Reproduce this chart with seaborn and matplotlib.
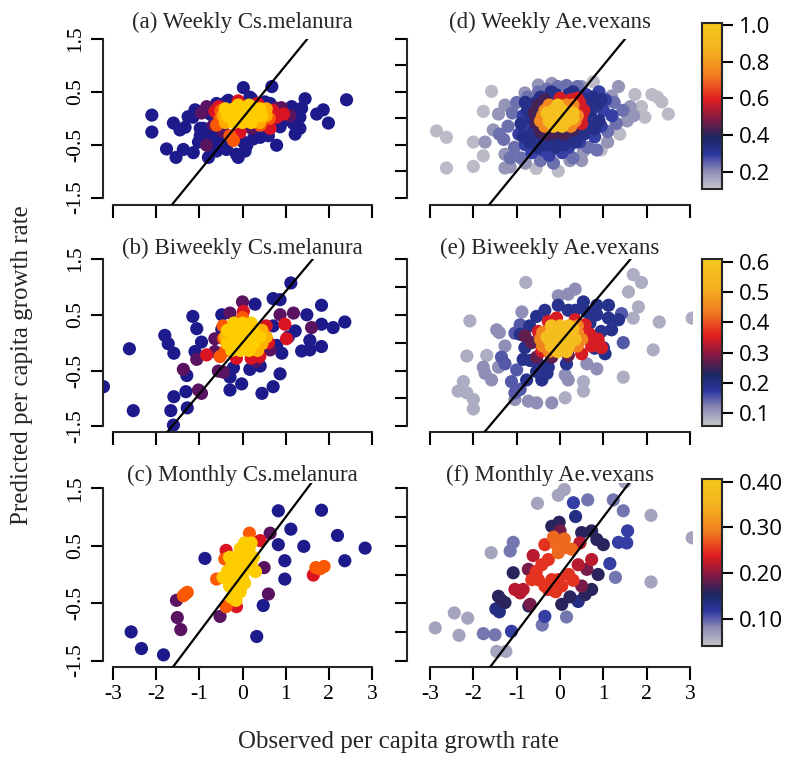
import numpy as np
import pandas as pd
import matplotlib
matplotlib.use("Agg")
import matplotlib.pyplot as plt
import seaborn as sns
from matplotlib.colors import LinearSegmentedColormap, Normalize
from matplotlib.cm import ScalarMappable

# ---------------- data ----------------
titles = ["(a) Weekly Cs.melanura", "(d) Weekly Ae.vexans",
          "(b) Biweekly Cs.melanura", "(e) Biweekly Ae.vexans",
          "(c) Monthly Cs.melanura", "(f) Monthly Ae.vexans"]

a_groups = {
 0.08: [(-2.10,0.06),(-2.10,-0.26),(-1.76,-0.58),(-1.54,-0.74),(-1.60,-0.09),(-1.45,-0.22),(-1.33,-0.17),
        (-1.37,-0.59),(-1.14,-0.65),(-0.79,-0.74),(-1.15,0.02),(-1.10,0.16),(-0.98,-0.19),(-0.98,-0.33),
        (-1.02,-0.45),(-0.83,-0.42),(-0.75,-0.30),(-0.64,-0.51),(-0.60,-0.62),(-0.37,-0.59),(-0.14,-0.68),
        (-0.10,-0.74),(0.06,-0.62),(0.02,-0.45),(0.02,0.58),(0.68,0.60),(0.17,0.40),(-0.33,0.34),(-0.60,0.28),
        (0.41,-0.36),(0.79,-0.51),(1.22,-0.30),(1.33,-0.19),(1.45,0.37),(1.14,0.22),(1.37,0.19),(1.72,0.08),
        (1.87,0.16),(1.99,-0.09),(2.41,0.35),(1.06,-0.01),(0.91,-0.07),(1.26,0.08),(0.64,0.28),(0.49,0.22),
        (-1.26,0.03),(-1.06,0.13),(-0.75,0.08),(-0.37,0.31),(0.21,0.37),(0.52,0.31),(1.02,0.16),(1.33,0.02),
        (1.18,-0.10),(0.87,-0.16),(0.60,-0.33),(0.25,-0.39),(0.10,-0.51),(-0.41,-0.36),(-0.64,-0.36),(-0.91,-0.19)],
 0.42: [(-0.83,-0.51),(-0.83,0.22),(0.79,0.19),(-0.68,-0.13),(0.21,-0.19),(0.56,-0.16),(1.10,0.05),
        (-0.95,0.10),(0.90,0.20),(-0.45,-0.25)],
 0.60: [(0.95,0.08),(0.79,0.02),(0.64,-0.19),(-0.64,0.13),(-0.06,-0.27),(0.70,0.15),(-0.55,0.22),
        (0.35,0.28),(-0.10,0.33)],
 0.72: [(-0.60,-0.13),(-0.52,-0.01),(0.41,-0.13),(-0.29,-0.33),(-0.21,-0.42),(0.62,0.00),(-0.50,0.15)],
 0.85: [(-0.45,0.05),(0.55,0.05),(-0.40,-0.08),(0.55,0.18),(0.40,-0.08)],
 0.96: [(-0.35,0.05),(-0.25,0.05),(-0.15,0.05),(-0.05,0.05),(0.05,0.05),(0.15,0.05),(0.25,0.05),(0.35,0.05),
        (0.45,0.05),(-0.40,0.18),(-0.20,0.18),(0.00,0.18),(0.20,0.18),(0.40,0.18),(-0.20,-0.08),(0.00,-0.08),
        (0.20,-0.08),(-0.10,0.25),(0.15,0.25)],
}

d_groups = {
 0.125: [(-2.85,-0.24),(-2.62,-0.36),(-2.62,-0.94),(-2.00,-0.91),(-2.00,-0.45),(-1.77,-0.71),(-1.77,0.13),
         (-1.58,0.51),(-0.04,-1.00),(2.50,0.08),(2.35,0.31),(2.12,0.45),(1.73,0.45),(1.96,0.02),(0.77,0.69),
         (-0.55,-0.95),(0.95,-0.60),(1.38,-0.30),(1.88,0.22),(2.25,0.40)],
 0.19: [(-1.73,-0.45),(-1.54,-0.22),(-1.42,0.08),(-1.27,-0.94),(-1.15,-0.92),(-1.27,-0.68),(0.50,-0.80),
        (0.54,-0.62),(0.23,-0.80),(1.35,0.60),(0.50,0.60),(-0.19,0.66),(-0.50,0.63),(-0.81,0.48),(-1.27,0.25),
        (1.19,0.42),(1.62,0.22),(1.55,-0.05),(1.70,0.05),(-0.80,-0.85),(1.10,-0.45)],
 0.235: [(-1.30,-0.40),(-1.20,-0.15),(-1.10,0.10),(-1.05,-0.55),(-1.00,0.30),(-0.90,-0.75),(-0.75,0.40),
         (-0.50,0.50),(-0.45,-0.80),(-0.30,0.55),(-0.15,-0.85),(-0.05,0.60),(0.15,0.62),(0.30,-0.75),(0.40,0.60),
         (0.65,-0.55),(1.10,-0.25),(1.25,0.30),(1.30,-0.10),(1.45,0.15),(0.85,-0.60),(-1.40,-0.30),(-1.15,-0.75)],
 0.29: [(-0.95,-0.30),(-0.85,0.05),(-0.80,-0.50),(-0.70,-0.20),(-0.65,-0.65),(-0.60,0.20),(-0.55,-0.40),
        (-0.40,-0.60),(-0.25,-0.70),(0.05,-0.65),(0.20,-0.55),(0.45,-0.45),(0.60,0.45),(0.75,0.30),(0.80,-0.35),
        (0.90,0.50),(0.95,-0.15),(1.00,0.15),(1.05,0.35),(1.20,0.05),(0.70,-0.05)],
 0.33: [(-0.90,-0.10),(-0.85,-0.35),(-0.75,0.15),(-0.70,-0.45),(-0.65,0.00),(-0.60,-0.25),(-0.55,0.30),
        (-0.50,-0.55),(-0.45,0.40),(-0.40,-0.35),(-0.30,-0.50),(-0.20,-0.45),(-0.10,-0.55),(-0.10,0.45),
        (0.00,-0.40),(0.10,-0.50),(0.20,0.45),(0.25,-0.35),(0.35,-0.45),(0.50,0.40),(0.55,-0.30),(0.60,0.25),
        (0.65,-0.15),(0.70,0.10),(0.75,0.40),(0.85,0.25),(0.90,-0.05),(0.95,0.35),(0.40,-0.25),(-0.80,0.30),
        (0.80,-0.20),(-0.20,0.50),(0.30,0.50)],
 0.43: [(-0.60,0.10),(-0.55,-0.10),(-0.50,0.25),(-0.45,-0.25),(-0.35,0.35),(-0.30,-0.30),(-0.15,-0.28),
        (0.10,-0.30),(0.30,-0.22),(-0.55,0.02)],
 0.58: [(0.00,0.38),(0.25,0.35),(0.45,0.30),(0.50,-0.10),(0.55,0.15),(0.50,0.05),(0.40,0.38)],
 0.76: [(-0.35,-0.15),(0.25,-0.15),(-0.45,-0.05),(0.35,-0.05),(-0.40,0.05),(0.40,0.05),(-0.35,0.15),
        (0.25,0.15),(-0.25,0.25),(0.30,0.25),(0.15,0.25)],
 0.96: [(-0.15,-0.15),(0.05,-0.15),(-0.25,-0.05),(-0.05,-0.05),(0.15,-0.05),(-0.20,0.05),(0.00,0.05),
        (0.20,0.05),(-0.15,0.15),(0.05,0.15),(-0.05,0.25),(-0.10,0.00),(0.10,0.00),(0.30,0.00),(-0.30,0.10),
        (0.00,0.10),(0.30,0.10)],
}

b_groups = {
 0.08: [(-2.62,-0.11),(-3.22,-0.79),(-2.53,-1.22),(-1.80,0.13),(-1.72,-0.02),(-1.59,-0.19),(-1.29,-0.59),
        (-1.31,-0.88),(-1.28,-1.17),(-1.59,-0.97),(-1.66,-1.22),(-1.60,-1.48),(-1.15,0.47),(-1.06,0.25),
        (-0.95,0.01),(-1.10,-0.16),(-0.29,-0.62),(-0.29,-0.85),(-0.02,-0.74),(-0.21,-0.45),(0.17,-0.48),
        (0.41,-0.42),(0.45,-0.91),(0.71,-0.79),(0.87,-0.56),(0.91,-0.19),(0.79,-0.05),(1.06,0.10),(1.22,0.21),
        (0.71,0.30),(1.49,0.50),(1.37,-0.15),(1.56,-0.13),(1.83,-0.07),(1.56,0.04),(1.83,0.33),(2.10,0.27),
        (2.37,0.37),(1.83,0.67),(1.12,1.07),(0.71,0.79),(0.87,0.77),(0.29,0.69),(-0.48,0.50),(-0.48,0.24)],
 0.42: [(-1.37,-0.48),(-1.02,-0.85),(-0.95,-0.91),(-1.06,-0.30),(-0.64,-0.16),(-0.56,-0.51),(-0.44,-0.53),
        (0.29,-0.28),(0.87,0.50),(1.18,0.53),(1.60,0.27),(0.00,0.73),(-0.29,0.53),(0.33,-0.33),(-0.64,0.07),
        (0.64,-0.13)],
 0.60: [(-0.83,-0.22),(0.02,0.56),(1.02,0.07),(0.98,0.33),(-0.14,-0.28),(0.55,0.30),(0.60,0.00),(0.40,-0.25),
        (0.20,-0.28)],
 0.72: [(-0.52,-0.25),(-0.44,0.07),(-0.45,0.30),(0.00,0.45),(-0.40,-0.15)],
 0.86: [(-0.40,0.10),(0.55,0.10),(0.45,0.22),(0.45,-0.02),(0.35,-0.14)],
 0.96: [(-0.20,0.35),(0.00,0.35),(0.20,0.35),(-0.35,0.22),(-0.15,0.22),(0.05,0.22),(0.25,0.22),(-0.20,0.10),
        (0.00,0.10),(0.20,0.10),(0.40,0.10),(-0.35,-0.02),(-0.15,-0.02),(0.05,-0.02),(0.25,-0.02),(-0.25,-0.14),
        (-0.05,-0.14),(0.15,-0.14)],
}

e_groups = {
 0.085: [(-0.79,1.08),(-2.08,0.39),(-2.15,-0.24),(-2.23,-0.70),(-2.35,-0.87),(-2.15,-0.90),(-2.00,-1.02),
         (-2.00,-1.19),(1.69,1.22),(1.88,1.08),(1.58,0.91),(1.81,0.64),(1.69,0.44),(2.29,0.37),(2.15,-0.13),
         (1.46,-0.62),(0.54,-0.87),(0.54,-0.70),(0.12,-0.99),(3.05,0.44),(-1.69,-0.23)],
 0.115: [(-1.46,0.23),(-1.40,0.18),(-1.27,-0.06),(-1.77,-0.44),(-1.58,-0.67),(-1.73,-0.55),(-1.42,-0.44),
         (-0.88,0.55),(0.35,0.96),(0.19,0.87),(-0.04,0.84),(-0.19,-1.08),(-0.54,-1.08),(-0.73,-1.05),
         (-1.04,-1.02),(0.85,-0.47),(0.62,-0.38),(0.19,-0.67),(0.12,-0.58)],
 0.15: [(-1.35,-0.26),(-1.27,-0.38),(-1.04,0.17),(-0.92,0.32),(1.42,0.52),(1.46,0.00),(-1.12,-0.70),
        (-1.04,-0.90),(-0.92,-0.84),(-1.00,-0.49)],
 0.19: [(-0.54,0.47),(-0.35,0.58),(-0.04,0.67),(0.19,0.58),(0.54,0.73),(0.85,0.67),(1.12,0.67),(1.35,0.41),
        (1.12,0.44),(1.19,0.23),(1.00,-0.09),(1.04,-0.20),(0.69,0.35),(0.62,0.55),(0.35,0.58),(-0.92,0.15),
        (-0.81,-0.09),(-0.69,-0.32),(-0.77,-0.67),(-0.54,-0.52),(-0.42,-0.67),(-0.50,-0.38),(-0.27,-0.44),
        (0.15,-0.38),(0.85,0.50),(0.95,0.20),(-0.70,0.30),(-0.30,-0.55),(-0.85,-0.30),(0.80,-0.10)],
 0.27: [(-0.81,0.12),(-0.65,0.00),(-0.54,-0.26),(-0.19,-0.26),(0.19,-0.23)],
 0.35: [(-0.50,0.20),(-0.27,0.38),(-0.08,0.44),(0.35,0.41),(0.58,0.32),(0.69,0.15),(0.73,-0.06),(0.50,-0.20),
        (-0.42,-0.15),(0.96,-0.09),(0.88,0.06)],
 0.45: [(-0.45,0.06),(0.50,0.06),(-0.40,-0.06),(0.40,-0.06),(0.40,0.30),(-0.40,0.18),(0.40,0.18),(-0.25,-0.16)],
 0.57: [(-0.20,0.30),(0.00,0.30),(0.20,0.30),(-0.20,0.18),(0.00,0.18),(0.20,0.18),(-0.25,0.06),(-0.05,0.06),
        (0.15,0.06),(0.35,0.06),(-0.20,-0.06),(0.00,-0.06),(0.20,-0.06),(-0.05,-0.16),(0.15,-0.16),(0.10,0.12),
        (-0.10,0.00),(0.30,0.25),(-0.30,0.10)],
}

c_groups = {
 0.08: [(-2.58,-1.00),(-2.34,-1.29),(-1.83,-1.40),(-0.87,0.28),(0.83,1.11),(1.83,1.12),(1.12,0.79),(0.83,0.52),
        (1.42,0.49),(2.20,0.68),(2.84,0.46),(2.37,0.24),(0.98,0.24),(0.98,-0.08),(0.48,-0.54),(0.33,-1.08)],
 0.42: [(-1.53,-0.45),(-1.51,-0.75),(-1.43,-0.96),(-0.52,-0.73),(0.64,0.72),(0.50,0.12),(0.60,-0.34)],
 0.60: [(-0.14,-0.56),(-0.38,0.42),(0.41,0.59),(1.64,-0.01)],
 0.72: [(-1.37,-0.37),(-1.28,-0.31),(-1.33,-0.34),(-0.38,-0.56),(-0.41,0.27),(-0.60,-0.08),(0.16,0.72),
        (1.70,0.12),(1.89,0.14),(1.80,0.10)],
 0.96: [(-0.45,-0.05),(-0.35,0.05),(-0.30,-0.20),(-0.25,0.15),(-0.20,-0.35),(-0.20,0.00),(-0.15,0.30),
        (-0.10,0.10),(-0.10,-0.15),(-0.05,0.45),(0.00,0.25),(0.00,-0.05),(0.05,0.55),(0.10,0.35),(0.10,0.10),
        (0.15,0.45),(0.20,0.20),(0.25,0.30),(-0.15,-0.45),(-0.05,-0.30),(0.05,-0.15),(0.30,0.05),(-0.30,0.30),
        (0.20,0.55),(-0.25,-0.40),(0.00,0.40)],
}

f_groups = {
 0.065: [(-2.88,-0.93),(-2.44,-0.67),(-2.33,-1.06),(-2.13,-0.76),(-1.59,0.38),(-0.52,1.24),(-0.04,1.38),
         (0.10,1.48),(1.50,1.61),(2.10,1.03),(2.10,-0.13),(3.05,0.64),(-1.46,-1.34),(-1.25,-1.34)],
 0.09: [(0.64,1.30),(1.23,1.30),(1.46,1.11),(1.28,-0.05),(0.15,-0.74),(-0.41,-0.88),(-1.08,0.56),(-1.15,0.41),
        (-1.77,-1.03),(-1.50,-1.05)],
 0.115: [(-1.12,-0.99),(-0.35,-0.73),(0.31,1.25),(1.56,0.76),(1.54,0.55),(1.35,0.56),(1.15,0.19)],
 0.135: [(-1.48,-0.60),(-1.40,-0.65),(0.36,1.01),(0.42,-0.47)],
 0.16: [(-0.19,0.84),(-0.02,0.91),(0.50,0.73),(0.73,0.76),(0.85,0.61),(1.00,0.52),(0.88,0.00),(0.73,-0.26),
        (0.58,-0.35),(0.23,-0.39),(0.04,-0.52),(-0.72,-0.55),(-1.08,0.03),(-1.42,-0.38),(-1.27,-0.49),(-1.35,-0.45)],
 0.19: [(0.00,0.76),(-0.73,0.09),(-0.69,-0.52),(0.62,0.09),(0.50,-0.20)],
 0.22: [(-0.62,0.33),(-1.04,-0.26),(-0.92,-0.32),(0.46,0.55),(0.73,0.26),(-0.85,-0.26),(0.42,0.17)],
 0.25: [(-0.35,0.52),(-0.27,0.26),(-0.42,0.17),(-0.19,-0.09),(-0.04,-0.09),(0.04,-0.20),(-0.35,-0.20),
        (-0.50,-0.09),(-0.65,-0.09),(-0.27,-0.26),(0.20,0.00),(-0.55,0.05),(-0.10,-0.30),(0.30,-0.10)],
 0.28: [(-0.08,0.52),(0.12,0.47),(0.27,0.44),(-0.04,0.38),(0.10,0.62),(-0.15,0.65)],
}

panel_groups = [a_groups, d_groups, b_groups, e_groups, c_groups, f_groups]
cbar_range = [(0.107, 1.01), (0.057, 0.61), (0.041, 0.406)]
cbar_ticks = [[0.2, 0.4, 0.6, 0.8, 1.0], [0.1, 0.2, 0.3, 0.4, 0.5, 0.6], [0.10, 0.20, 0.30, 0.40]]
cbar_labels = [["0.2", "0.4", "0.6", "0.8", "1.0"], ["0.1", "0.2", "0.3", "0.4", "0.5", "0.6"],
               ["0.10", "0.20", "0.30", "0.40"]]
x_ticks = [-3, -2, -1, 0, 1, 2, 3]
x_ticklabels = ["-3", "-2", "-1", "0", "1", "2", "3"]
y_ticks_left = [-1.5, -0.5, 0.5, 1.5]
y_ticklabels_left = ["-1.5", "-0.5", "0.5", "1.5"]
y_ticks_right = [-1.5, -1.0, -0.5, 0.0, 0.5, 1.0, 1.5]
line_slopes = [1.0, 0.92, 1.0]

# ---------------- style ----------------
sns.set_theme(style="ticks")
plt.rcParams['font.family'] = ['Liberation Serif', 'DejaVu Serif']

cmap_left = LinearSegmentedColormap.from_list("left", [
    (0.0, "#1C1C8E"), (0.25, "#1E1A88"), (0.40, "#4C1468"), (0.52, "#A01040"),
    (0.62, "#E8141C"), (0.74, "#FF6400"), (0.86, "#FFB000"), (1.0, "#FFD700")])
cmap_right = LinearSegmentedColormap.from_list("right", [
    (0.0, "#C6C6CC"), (0.11, "#8A8AB4"), (0.21, "#2C36A0"), (0.31, "#1B2760"),
    (0.42, "#801A44"), (0.54, "#E01C20"), (0.68, "#F07A20"), (0.83, "#F5B020"), (1.0, "#F5C81C")])

W, H = 785, 764
fig = plt.figure(figsize=(W / 100, H / 100), dpi=100)

def px_axes(l, t, r, b):
    return fig.add_axes([l / W, 1 - b / H, (r - l) / W, (b - t) / H])

# (zero px, px per unit, top/left px, bottom/right px)
row_geom = [(111.0, 57.3, 39, 205), (339.5, 57.7, 259, 432), (574.5, 57.4, 483, 667)]
col_geom = [(242.5, 43.17, 103, 382), (560.0, 43.33, 407, 693)]
title_base = [28, 254, 481]
cbar_box = [(702, 23, 722, 189), (702, 259, 722, 426), (702, 479, 722, 646)]

for i, groups in enumerate(panel_groups):
    row, col = i // 2, i % 2
    y0, sy, top, bot = row_geom[row]
    x0, sx, left, right = col_geom[col]
    ax = px_axes(left, top, right, bot)
    rows = [(p[0], p[1], lvl) for lvl, pts in groups.items() for p in pts]
    df = pd.DataFrame(rows, columns=["x", "y", "v"]).sort_values("v", kind="stable")
    if col == 0:
        cmap, norm = cmap_left, Normalize(0, 1)
    else:
        cmap, norm = cmap_right, Normalize(*cbar_range[row])
    sns.scatterplot(data=df, x="x", y="y", hue="v", palette=cmap, hue_norm=norm,
                    s=90, linewidth=0, legend=False, ax=ax, zorder=2)
    ax.axline((0, 0), slope=line_slopes[row], color="black", lw=1.6, zorder=3)
    ax.set_xlim((left - x0) / sx, (right - x0) / sx)
    ax.set_ylim((y0 - bot) / sy, (y0 - top) / sy)
    ax.set_facecolor("none")
    for s in ["top", "right"]:
        ax.spines[s].set_visible(False)
    ax.spines["left"].set_bounds(-1.5, 1.5)
    ax.spines["bottom"].set_bounds(-3, 3)
    ax.spines["left"].set_linewidth(1.5)
    ax.spines["bottom"].set_linewidth(1.5)
    ax.set_xticks(x_ticks)
    if row == 2:
        ax.set_xticklabels(x_ticklabels)
    else:
        ax.set_xticklabels([])
    if col == 0:
        ax.set_yticks(y_ticks_left)
        ax.set_yticklabels(y_ticklabels_left, rotation=90, va="center")
    else:
        ax.set_yticks(y_ticks_right)
        ax.set_yticklabels([])
    ax.tick_params(direction="out", length=9, width=1.5, labelsize=15.5, pad=4, colors="black")
    ax.set_xlabel("")
    ax.set_ylabel("")
    fig.text((left + right) / 2 / W, 1 - title_base[row] / H, titles[i],
             ha="center", va="baseline", fontsize=16.5)

    if col == 1:
        l, t, r, b = cbar_box[row]
        cax = px_axes(l, t, r, b)
        cb = fig.colorbar(ScalarMappable(norm=norm, cmap=cmap), cax=cax, ticks=cbar_ticks[row])
        cb.ax.set_yticklabels(cbar_labels[row], family=["Open Sans", "DejaVu Sans"], fontsize=16)
        cb.outline.set_linewidth(1.5)
        cb.ax.tick_params(direction="out", length=8, width=1.5, pad=4, colors="black")

fig.text(398 / W, 1 - 742 / H, "Observed per capita growth rate", ha="center", va="center", fontsize=18)
fig.text(22 / W, 1 - 365 / H, "Predicted per capita growth rate", ha="center", va="center",
         rotation=90, fontsize=18)

fig.savefig("out.png", dpi=100)
